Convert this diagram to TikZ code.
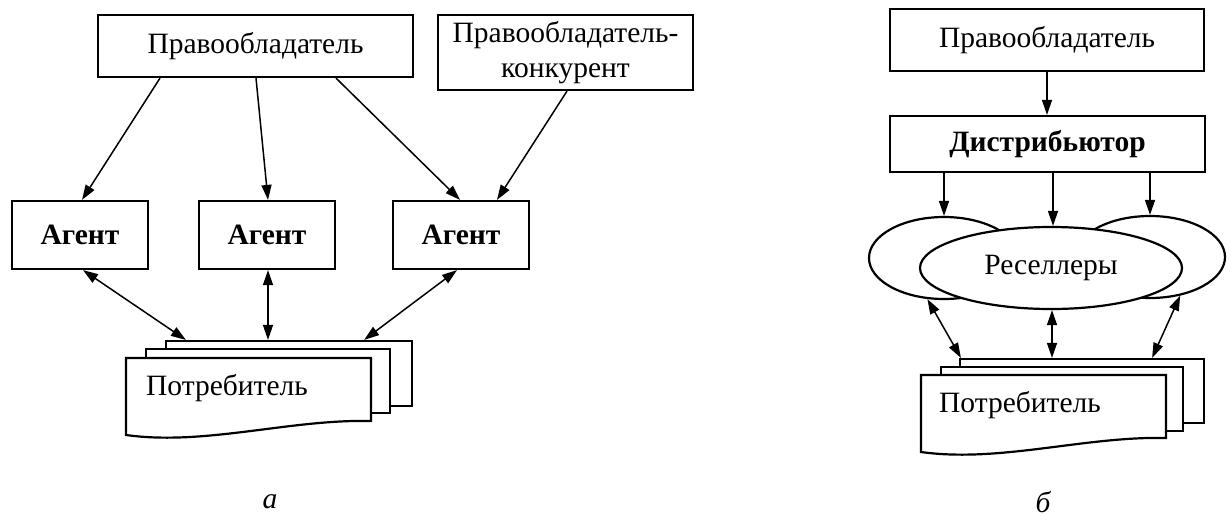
\documentclass[tikz,border=0pt]{standalone}
\usepackage{fontspec}
\setmainfont{Liberation Serif}
\usetikzlibrary{arrows.meta,shapes.geometric}
\begin{document}
\begin{tikzpicture}[x=1pt,y=-1pt,
  txt/.style={font=\fontsize{29.5}{35}\selectfont},
  box/.style={txt, draw, line width=2.2pt, inner sep=0pt, fill=white},
  sheet/.style={draw, line width=2.2pt, fill=white, inner sep=0pt},
  oval/.style={txt, ellipse, draw, line width=2.2pt, fill=white, inner sep=0pt},
  arr/.style={line width=1.5pt, -{Triangle[length=15pt,width=10pt]}},
  darr/.style={line width=1.5pt, {Triangle[length=15pt,width=10pt]}-{Triangle[length=15pt,width=10pt]}},
  lab/.style={font=\fontsize{29.5}{35}\selectfont\itshape, inner sep=0pt}]
\useasboundingbox (0,0) rectangle (1231,520);

% ---------------- left diagram (a) ----------------
\node[box, minimum width=315, minimum height=62] (pl) at (255.5,46) {Правообладатель};
\node[box, align=center, minimum width=255, minimum height=75] (comp) at (565.5,52.5) {Правообладатель-\\конкурент};
\node[box, font=\fontsize{29.5}{35}\selectfont\bfseries, minimum width=136, minimum height=68] (a1) at (80,235) {Агент};
\node[box, font=\fontsize{29.5}{35}\selectfont\bfseries, minimum width=136, minimum height=68] (a2) at (267,235) {Агент};
\node[box, font=\fontsize{29.5}{35}\selectfont\bfseries, minimum width=136, minimum height=68] (a3) at (461,235) {Агент};

\node[sheet, minimum width=246, minimum height=65] (bl) at (289,373.5) {};
\node[sheet, minimum width=244, minimum height=64] (ml) at (268,381) {};
\draw[line width=2.2pt, fill=white] (126,358) -- (371,358) -- (371,421)
  .. controls (290,419) and (205,446) .. (126,435) -- cycle;
\node[txt] (cl) at (227,388) {Потребитель};

\draw[arr] ([xshift=-95.5]pl.south) -- ([xshift=2]a1.north);
\draw[arr] ([xshift=0.5]pl.south) -- ([xshift=1]a2.north);
\draw[arr] ([xshift=80.5]pl.south) -- ([xshift=-1]a3.north);
\draw[arr] ([xshift=1.5]comp.south) -- ([xshift=36]a3.north);

\draw[darr] ([xshift=3]a1.south) -- ([xshift=21]bl.north west);
\draw[darr] ([xshift=1]a2.south) -- ([xshift=1]a2.south |- bl.north);
\draw[darr] ([xshift=-4]a3.south) -- ([xshift=-49]bl.north east);

\node[lab] (la) at (270,502) {а};

% ---------------- right diagram (b) ----------------
\node[box, minimum width=314, minimum height=62] (pr) at (1047,40) {Правообладатель};
\node[box, font=\fontsize{29.5}{35}\selectfont\bfseries, minimum width=315, minimum height=56] (dist) at (1047.5,144) {Дистрибьютор};

\node[oval, minimum width=150, minimum height=82] (dl) at (944,258) {};
\node[oval, minimum width=150, minimum height=82] (dr) at (1150,257) {};
\node[oval, minimum width=262, minimum height=82] (res) at (1051,268) {Реселлеры};

\node[sheet, minimum width=244, minimum height=64] (br) at (1082,391) {};
\node[sheet, minimum width=242, minimum height=64] (mr) at (1062,399) {};
\draw[line width=2.2pt, fill=white] (921,375) -- (1166,375) -- (1166,438)
  .. controls (1085,436) and (1000,463) .. (921,452) -- cycle;
\node[txt] (cr) at (1020,405) {Потребитель};

\draw[arr] (pr.south) -- (pr.south |- dist.north);
\draw[arr] (dist.south -| dl.north) -- (dl.north);
\draw[arr] ([xshift=2]dist.south -| res.north) -- ([xshift=2]res.north);
\draw[arr] (dist.south -| dr.north) -- (dr.north);

\draw[darr] (dl.-112) -- ([xshift=2]br.north west);
\draw[darr] ([xshift=1]res.south) -- ([xshift=1]res.south |- br.north);
\draw[darr] (dr.-52) -- ([xshift=-53]br.north east);

\node[lab] (lb) at (1043,502) {б};
\end{tikzpicture}
\end{document}
